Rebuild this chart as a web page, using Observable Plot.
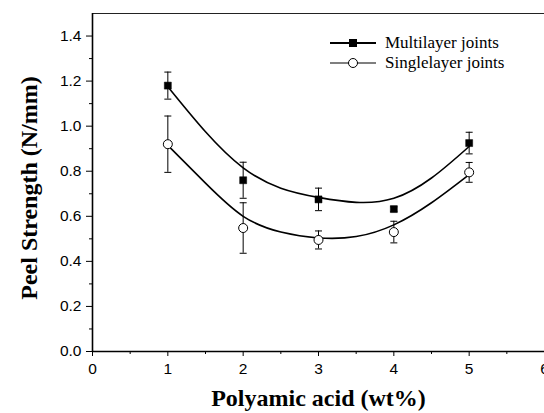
<!DOCTYPE html>
<html>
<head>
<meta charset="utf-8">
<script src="https://cdn.jsdelivr.net/npm/d3@7"></script>
<script src="https://cdn.jsdelivr.net/npm/@observablehq/plot@0.6"></script>
<style>
  body { margin: 0; background: #fff; }
  #wrap { position: relative; width: 544px; height: 413px; overflow: hidden; }
  .legend-row { position: absolute; left: 328px; height: 20px; display: flex; align-items: center;
    font-family: "Liberation Serif", "Times New Roman", serif; font-size: 17px; line-height: 20px; color: #000; white-space: nowrap; }
  .legend-row svg { display: block; margin-right: 7px; }
</style>
</head>
<body>
<div id="wrap"></div>
<script>
// Polyamic acid content (wt%)
const content = [1, 2, 3, 4, 5];

// Measured peel strength (N/mm) with standard deviations
const multiMean = [1.18, 0.76, 0.675, 0.632, 0.925];
const multiErr = [0.06, 0.08, 0.05, 0.01, 0.048];
const singleMean = [0.92, 0.548, 0.495, 0.53, 0.795];
const singleErr = [0.125, 0.112, 0.04, 0.048, 0.044];

// Fitted trend curves, sampled along the x axis
const fitX = [1, 1.5, 2, 2.5, 3, 3.5, 4, 4.5, 5];
const multiFit = [1.175, 0.975, 0.815, 0.725, 0.684, 0.662, 0.68, 0.77, 0.91];
const singleFit = [0.915, 0.747, 0.60, 0.53, 0.504, 0.51, 0.562, 0.66, 0.785];

// Axis ticks
const xTicks = [0, 1, 2, 3, 4, 5, 6];
const xMinor = [0.5, 1.5, 2.5, 3.5, 4.5, 5.5];
const yTicks = [0, 0.2, 0.4, 0.6, 0.8, 1.0, 1.2, 1.4];
const yMinor = [0.1, 0.3, 0.5, 0.7, 0.9, 1.1, 1.3];
const yMax = 1.5;

const seriesNames = ["Multilayer joints", "Singlelayer joints"];
const xTitle = "Polyamic acid (wt%)";
const yTitle = "Peel Strength (N/mm)";

const multi = content.map((x, i) => ({x, y: multiMean[i], lo: multiMean[i] - multiErr[i], hi: multiMean[i] + multiErr[i]}));
const single = content.map((x, i) => ({x, y: singleMean[i], lo: singleMean[i] - singleErr[i], hi: singleMean[i] + singleErr[i]}));
const caps = [...multi, ...single].flatMap(d => [{x: d.x, y: d.lo}, {x: d.x, y: d.hi}]);
const multiCurve = fitX.map((x, i) => ({x, y: multiFit[i]}));
const singleCurve = fitX.map((x, i) => ({x, y: singleFit[i]}));

// horizontal bar symbol for error-bar caps
const capSymbol = {
  draw(context, size) {
    const w = Math.sqrt(size) / 2;
    context.moveTo(-w, 0);
    context.lineTo(w, 0);
  }
};

const serif = "'Liberation Serif', 'Times New Roman', serif";

const chart = Plot.plot({
  width: 544,
  height: 413,
  marginLeft: 92,
  marginRight: 0,
  marginTop: 13,
  marginBottom: 62,
  x: {domain: [0, 6]},
  y: {domain: [0, yMax]},
  style: {fontFamily: "'Liberation Sans', Arial, sans-serif", fontSize: "15.5px", color: "#000", background: "#fff"},
  marks: [
    Plot.ruleY([yMax], {stroke: "#222", strokeWidth: 1.2}),
    Plot.axisX({ticks: xTicks, tickSize: 5, tickPadding: 6, tickFormat: d => String(d), label: null, stroke: "#000"}),
    Plot.axisX({ticks: xMinor, tickSize: 3, tickFormat: () => "", label: null, stroke: "#000"}),
    Plot.axisY({ticks: yTicks, tickSize: 6, tickPadding: 5, tickFormat: d3.format(".1f"), label: null, stroke: "#000"}),
    Plot.axisY({ticks: yMinor, tickSize: 3, tickFormat: () => "", label: null, stroke: "#000"}),
    Plot.ruleX([0], {stroke: "#000", strokeWidth: 1.6}),
    Plot.ruleY([0], {stroke: "#000", strokeWidth: 1.6}),
    // error bars
    Plot.ruleX(multi, {x: "x", y1: "lo", y2: "hi", stroke: "#000", strokeWidth: 1}),
    Plot.ruleX(single, {x: "x", y1: "lo", y2: "hi", stroke: "#000", strokeWidth: 1}),
    Plot.dot(caps, {x: "x", y: "y", symbol: capSymbol, r: 3.95, stroke: "#000", strokeWidth: 1}),
    // fitted curves
    Plot.line(multiCurve, {x: "x", y: "y", curve: "natural", stroke: "#000", strokeWidth: 1.6}),
    Plot.line(singleCurve, {x: "x", y: "y", curve: "natural", stroke: "#000", strokeWidth: 1.6}),
    // data markers
    Plot.dot(multi, {x: "x", y: "y", symbol: "square", r: 3.95, fill: "#000", stroke: "#000", strokeWidth: 0.5}),
    Plot.dot(single, {x: "x", y: "y", symbol: "circle", r: 4.5, fill: "#fff", stroke: "#000", strokeWidth: 1}),
    // axis titles
    Plot.text([xTitle], {frameAnchor: "bottom", textAnchor: "middle", lineAnchor: "bottom", dy: 54.5, text: d => d,
      fontFamily: serif, fontWeight: "bold", fontSize: 24, fill: "#000"}),
    Plot.text([yTitle], {frameAnchor: "left", textAnchor: "middle", lineAnchor: "bottom", rotate: -90, dx: -56, dy: 5.5, text: d => d,
      fontFamily: serif, fontWeight: "bold", fontSize: 24, fill: "#000"})
  ]
});

const wrap = document.getElementById("wrap");
wrap.appendChild(chart);

// legend inside the plot area
const legendRows = [
  {name: seriesNames[0], top: 32.7, lineWidth: 2, marker: '<rect x="21" y="6" width="8" height="8" fill="#000"/>'},
  {name: seriesNames[1], top: 52.7, lineWidth: 1.2, marker: '<circle cx="25" cy="10" r="4.5" fill="#fff" stroke="#000" stroke-width="1"/>'}
];
for (const row of legendRows) {
  const div = document.createElement("div");
  div.className = "legend-row";
  div.style.top = row.top + "px";
  div.innerHTML = `<svg width="50" height="20"><line x1="2" x2="48" y1="10" y2="10" stroke="#000" stroke-width="${row.lineWidth}"/>${row.marker}</svg><span></span>`;
  div.querySelector("span").textContent = row.name;
  wrap.appendChild(div);
}
</script>
</body>
</html>
